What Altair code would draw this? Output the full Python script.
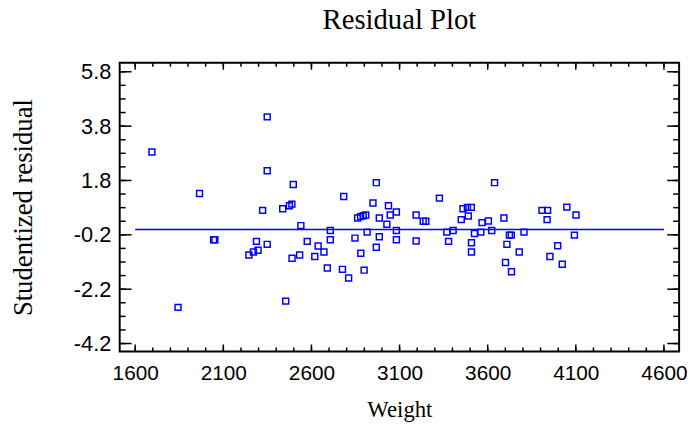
import altair as alt
import pandas as pd

# ---- data ----
weight = [1695, 1843, 1965, 2045, 2052, 2245, 2271, 2288, 2297, 2323,
          2349, 2349, 2349, 2437, 2454, 2475, 2489, 2490, 2497, 2533,
          2540, 2576, 2619, 2638, 2671, 2690, 2707, 2707, 2776, 2783,
          2811, 2847, 2862, 2879, 2880, 2894, 2899, 2908, 2916, 2949,
          2968, 2968, 2985, 2985, 3028, 3037, 3047, 3082, 3082, 3082,
          3194, 3194, 3234, 3249, 3326, 3368, 3378, 3404, 3450, 3460,
          3485, 3490, 3507, 3508, 3508, 3525, 3561, 3568, 3604, 3623,
          3639, 3692, 3701, 3709, 3723, 3734, 3735, 3779, 3806, 3908,
          3940, 3937, 3953, 3997, 4023, 4049, 4092, 4101]
resid = [2.85, -2.87, 1.32, -0.38, -0.38, -0.94, -0.83, -0.44, -0.77, 0.70,
         4.14, 2.16, -0.55, 0.76, -2.64, 0.87, 0.93, -1.06, 1.65, -0.94,
         0.14, -0.44, -1.00, -0.61, -0.83, -1.42, -0.04, -0.38, -1.47, 1.21,
         -1.79, -0.32, 0.42, 0.47, -0.88, 0.50, -1.50, 0.53, -0.10, 0.97,
         1.72, -0.66, 0.42, -0.27, 0.19, 0.87, 0.53, 0.64, -0.04, -0.38,
         0.53, -0.43, 0.30, 0.30, 1.15, -0.10, -0.44, -0.04, 0.36, 0.76,
         0.81, 0.49, 0.81, -0.49, -0.83, -0.15, -0.10, 0.25, 0.31, -0.04,
         1.72, 0.42, -1.22, -0.55, -0.21, -0.21, -1.56, -0.83, -0.10, 0.70,
         0.70, 0.36, -1.00, -0.60, -1.28, 0.82, -0.21, 0.53]

fit_x = [1600, 4600]
fit_y = [0.0, 0.0]

x_major = [1600, 2100, 2600, 3100, 3600, 4100, 4600]
x_minor = [1600, 1700, 1800, 1900, 2000, 2100, 2200, 2300, 2400, 2500,
           2600, 2700, 2800, 2900, 3000, 3100, 3200, 3300, 3400, 3500,
           3600, 3700, 3800, 3900, 4000, 4100, 4200, 4300, 4400, 4500, 4600]
y_major = [-4.2, -2.2, -0.2, 1.8, 3.8, 5.8]
y_minor = [-4.2, -3.7, -3.2, -2.7, -2.2, -1.7, -1.2, -0.7, -0.2, 0.3,
           0.8, 1.3, 1.8, 2.3, 2.8, 3.3, 3.8, 4.3, 4.8, 5.3, 5.8]

x_domain = [1512, 4686]
y_domain = [-4.49, 6.13]

W, H = 566, 292
BLUE = "#0000ff"

pts = pd.DataFrame({"Weight": weight, "Resid": resid})
fit = pd.DataFrame({"Weight": fit_x, "Resid": fit_y})
xmaj = pd.DataFrame({"Weight": x_major})
xmin = pd.DataFrame({"Weight": x_minor})
ymaj = pd.DataFrame({"Resid": y_major})
ymin = pd.DataFrame({"Resid": y_minor})

xs = alt.Scale(domain=x_domain, nice=False, zero=False)
ys = alt.Scale(domain=y_domain, nice=False, zero=False)

x_axis = alt.Axis(
    values=x_major, format="d", labelFont="Liberation Sans", labelFontSize=21,
    labelColor="black", ticks=False, tickSize=0, domain=False, grid=False,
    labelPadding=11, labelFlush=False, labelOverlap=False,
    title="Weight", titleFont="Liberation Serif", titleFontSize=23,
    titleFontWeight="normal", titleColor="black", titleBaseline="alphabetic",
    titleX=W / 2, titleY=66, titleAlign="center",
)
y_axis = alt.Axis(
    values=y_major,
    labelExpr="datum.value < 0 ? '-' + format(-datum.value, '.1f') : format(datum.value, '.1f')",
    labelFont="Liberation Sans", labelFontSize=22, labelColor="black",
    ticks=False, tickSize=0, domain=False, grid=False, labelPadding=9,
    labelFlush=False, labelOverlap=False,
    title="Studentized residual", titleFont="Liberation Serif", titleFontSize=27,
    titleFontWeight="normal", titleColor="black", titleBaseline="alphabetic",
    titleX=-89, titleY=H / 2, titleAngle=270, titleAlign="center",
)

X = alt.X("Weight:Q", scale=xs, axis=x_axis)
Y = alt.Y("Resid:Q", scale=ys, axis=y_axis)

points = alt.Chart(pts).mark_point(
    shape="square", filled=False, color=BLUE, size=36, strokeWidth=1.5, opacity=1
).encode(x=X, y=Y)

fitline = alt.Chart(fit).mark_line(color=BLUE, strokeWidth=1.5).encode(x=X, y=Y)


def xticks(df, y0, y1):
    return alt.Chart(df).mark_rule(color="black", strokeWidth=1.5).encode(
        x=X, y=alt.value(y0), y2=alt.value(y1),
    )


def yticks(df, x0, x1):
    return alt.Chart(df).mark_rule(color="black", strokeWidth=1.5).encode(
        y=Y, x=alt.value(x0), x2=alt.value(x1),
    )


ticks = [
    xticks(xmin, H, H - 4), xticks(xmin, 0, 4),
    xticks(xmaj, H, H - 7), xticks(xmaj, 0, 7),
    yticks(ymin, 0, 6), yticks(ymin, W, W - 6),
    yticks(ymaj, 0, 12), yticks(ymaj, W, W - 12),
]

chart = alt.layer(points, fitline, *ticks).properties(
    width=W, height=H,
    title=alt.TitleParams(
        "Residual Plot", font="Liberation Serif", fontSize=29,
        fontWeight="normal", color="black", anchor="middle", offset=26,
    ),
    autosize=alt.AutoSizeParams(type="none"),
    padding={"left": 113, "top": 53, "right": 9, "bottom": 72},
    background="white",
).configure_view(
    stroke="black", strokeWidth=2
)

chart.save("out.html", embed_options={"renderer": "svg", "actions": False})
